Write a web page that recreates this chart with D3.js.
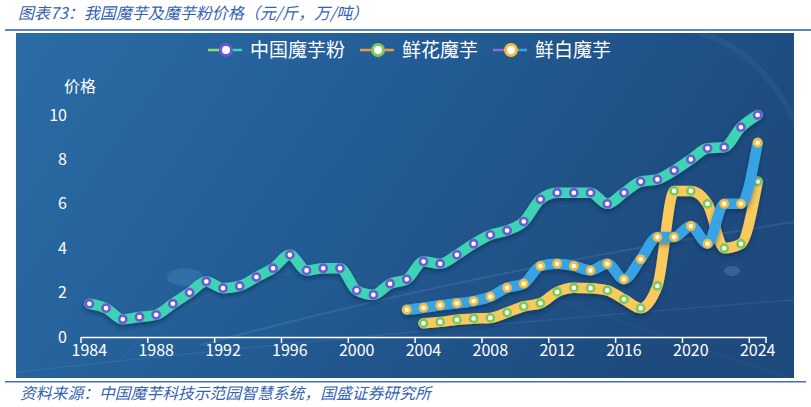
<!DOCTYPE html>
<html>
<head>
<meta charset="utf-8">
<script src="https://cdn.jsdelivr.net/npm/d3@7"></script>
<style>
  body { margin: 0; background: #fff; }
  svg { display: block; font-family: "Noto Sans CJK SC", "Noto Sans", sans-serif; }
</style>
</head>
<body>
<script>
// years 1984..2024
const years = d3.range(1984, 2025);
const labelYears = d3.range(1984, 2025, 4);
const yTicks = [0, 2, 4, 6, 8, 10];

// 中国魔芋粉 1984-2024
const powder = [1.5, 1.3, 0.8, 0.9, 1.0, 1.5, 2.0, 2.5, 2.2, 2.3,
                2.7, 3.1, 3.7, 3.0, 3.1, 3.1, 2.1, 1.9, 2.4, 2.6,
                3.4, 3.3, 3.7, 4.2, 4.6, 4.8, 5.2, 6.2, 6.5, 6.5,
                6.5, 6.0, 6.5, 7.0, 7.1, 7.5, 8.0, 8.5, 8.55, 9.45, 10.0];
// 鲜花魔芋 2004-2024
const flowerYears = d3.range(2004, 2025);
const flower = [0.62, 0.68, 0.78, 0.83, 0.86, 1.1, 1.38, 1.52, 2.03, 2.22,
                2.2, 2.1, 1.7, 1.3, 2.3, 6.58, 6.58, 6.0, 4.0, 4.2, 7.0];
// 鲜白魔芋 2003-2024
const whiteYears = d3.range(2003, 2025);
const white = [1.23, 1.32, 1.43, 1.52, 1.62, 1.82, 2.22, 2.4, 3.2, 3.3,
               3.2, 3.0, 3.3, 2.6, 3.5, 4.5, 4.5, 5.0, 4.2, 6.0, 6.0, 8.75];

const series = [
  {name: '中国魔芋粉', yrs: years, vals: powder, line: '#3ed3b4', ring: '#6a5bd4', legL: '#8fdc6a', legR: '#3ed3b4'},
  {name: '鲜花魔芋', yrs: flowerYears, vals: flower, line: '#f8c95c', ring: '#7dc95a', legL: '#f39a35', legR: '#f39a35'},
  {name: '鲜白魔芋', yrs: whiteYears, vals: white, line: '#39a3e4', ring: '#f5bb3c', legL: '#8a6ed8', legR: '#39a3e4'}
];

const W = 811, H = 407;
const svg = d3.select('body').append('svg').attr('width', W).attr('height', H);
const defs = svg.append('defs');

const grad = defs.append('linearGradient').attr('id', 'bg').attr('x1', 0).attr('x2', 1).attr('y1', 0).attr('y2', 0.3);
grad.append('stop').attr('offset', '0%').attr('stop-color', '#2b6ca6');
grad.append('stop').attr('offset', '55%').attr('stop-color', '#225a92');
grad.append('stop').attr('offset', '100%').attr('stop-color', '#1e4a7d');

const shadow = defs.append('filter').attr('id', 'shadow')
    .attr('x', '-5%').attr('y', '-20%').attr('width', '110%').attr('height', '140%');
shadow.append('feDropShadow').attr('dx', 0).attr('dy', 3).attr('stdDeviation', 2)
    .attr('flood-color', '#08203f').attr('flood-opacity', 0.45);

// title + frame lines
svg.append('text').attr('x', 18).attr('y', 19)
    .attr('font-size', 16).attr('font-style', 'italic').attr('fill', '#3563b0')
    .text('图表73：我国魔芋及魔芋粉价格（元/斤，万/吨）');
svg.append('rect').attr('x', 5).attr('y', 29).attr('width', 806).attr('height', 2).attr('fill', '#5a86c6');
svg.append('rect').attr('x', 16).attr('y', 33).attr('width', 778).attr('height', 345).attr('fill', 'url(#bg)');
svg.append('rect').attr('x', 5).attr('y', 381).attr('width', 801).attr('height', 1.5).attr('fill', '#3f6fb8');
svg.append('text').attr('x', 20).attr('y', 399)
    .attr('font-size', 15.8).attr('font-style', 'italic').attr('fill', '#3563b0')
    .text('资料来源：中国魔芋科技示范园智慧系统，国盛证券研究所');

// faint background decoration
const deco = svg.append('g').attr('fill', 'none').attr('stroke', '#9cc8f0');
deco.append('path').attr('d', 'M200,345 Q480,270 794,222').attr('stroke-opacity', 0.13).attr('stroke-width', 2);
deco.append('path').attr('d', 'M16,372 Q400,330 794,300').attr('stroke-opacity', 0.1).attr('stroke-width', 1.5);
deco.append('path').attr('d', 'M120,360 Q250,225 420,300').attr('stroke-opacity', 0.08).attr('stroke-width', 1);
deco.append('path').attr('d', 'M560,300 L794,380').attr('stroke-opacity', 0.08).attr('stroke-width', 1);
deco.append('path').attr('d', 'M700,33 Q760,50 794,120').attr('stroke-opacity', 0.06).attr('stroke-width', 6);
svg.append('ellipse').attr('cx', 185).attr('cy', 277).attr('rx', 18).attr('ry', 9).attr('fill', '#5a9ad6').attr('fill-opacity', 0.25);
svg.append('ellipse').attr('cx', 732).attr('cy', 271).attr('rx', 8).attr('ry', 5).attr('fill', '#6aa6dc').attr('fill-opacity', 0.3);

// scales
const x = d3.scaleBand().domain(years).range([81, 766]);
const y = d3.scaleLinear().domain([0, 10]).range([337, 115]);
const cx = d => x(d) + x.bandwidth() / 2;

// y axis labels
const yAxis = svg.append('g').attr('transform', 'translate(81,0)')
    .call(d3.axisLeft(y).tickValues(yTicks).tickSize(0).tickPadding(14));
yAxis.select('.domain').remove();
yAxis.selectAll('text').attr('fill', '#fff').attr('font-size', 16).attr('font-family', '"Noto Sans CJK SC", sans-serif');

svg.append('text').attr('x', 64).attr('y', 92).attr('fill', '#fff').attr('font-size', 16).text('价格');

// x axis
const xAxis = svg.append('g').attr('transform', 'translate(0,337)')
    .call(d3.axisBottom(x).tickValues(labelYears).tickSize(0).tickSizeOuter(0).tickPadding(8));
xAxis.select('.domain').attr('stroke', '#fff').attr('stroke-width', 1.5);
xAxis.selectAll('text').attr('fill', '#fff').attr('font-size', 16).attr('font-family', '"Noto Sans CJK SC", sans-serif');
xAxis.selectAll('.tickmark').data(labelYears.map(d => x(d)).concat([x.range()[1]]))
    .enter().append('line')
    .attr('x1', d => d).attr('x2', d => d).attr('y1', 0).attr('y2', 6)
    .attr('stroke', '#fff').attr('stroke-width', 1.5);

// lines + markers
const line = d3.line().x(d => cx(d.yr)).y(d => y(d.v)).curve(d3.curveMonotoneX);

series.forEach(s => {
  const pts = s.yrs.map((yr, i) => ({yr: yr, v: s.vals[i]}));
  const g = svg.append('g');
  g.append('path').datum(pts)
      .attr('d', line)
      .attr('fill', 'none')
      .attr('stroke', s.line)
      .attr('stroke-width', 10.5)
      .attr('stroke-linejoin', 'round')
      .attr('stroke-linecap', 'round')
      .attr('filter', 'url(#shadow)');
  g.selectAll('circle').data(pts).enter().append('circle')
      .attr('cx', d => cx(d.yr))
      .attr('cy', d => y(d.v))
      .attr('r', 3.6)
      .attr('fill', '#fff')
      .attr('stroke', s.ring)
      .attr('stroke-width', 2.6);
});

// legend
const legX = [208, 360, 493];
const legend = svg.selectAll('g.legend').data(series).enter().append('g')
    .attr('class', 'legend')
    .attr('transform', (d, i) => 'translate(' + legX[i] + ',50)');
legend.append('line').attr('x1', 0).attr('x2', 17).attr('stroke', d => d.legL).attr('stroke-width', 2.5);
legend.append('line').attr('x1', 17).attr('x2', 34).attr('stroke', d => d.legR).attr('stroke-width', 2.5);
legend.append('circle').attr('cx', 18).attr('r', 5.5).attr('fill', '#fff')
    .attr('stroke', d => d.ring).attr('stroke-width', 3);
legend.append('text').attr('x', 42).attr('y', 6.5).attr('fill', '#fff').attr('font-size', 19)
    .text(d => d.name);
</script>
</body>
</html>
